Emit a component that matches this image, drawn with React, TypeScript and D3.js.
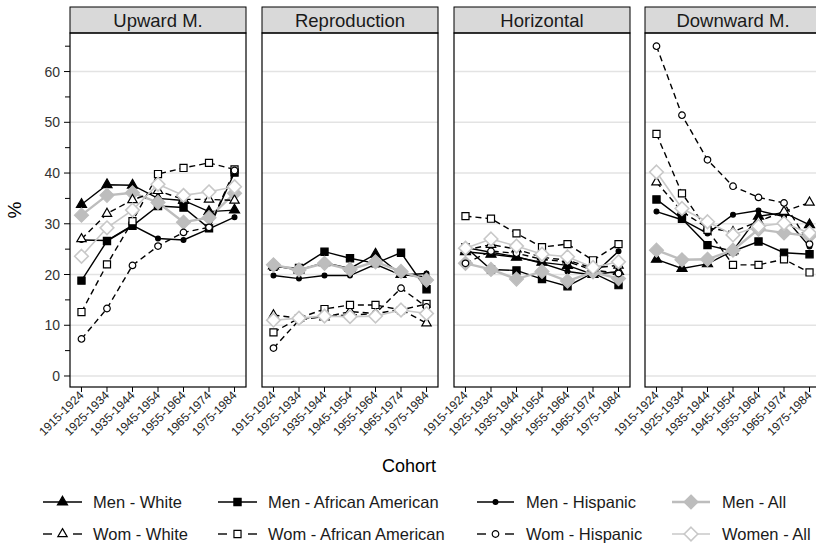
import React from "react";
import * as d3 from "d3";

// Cohort categories and facet names
const cohorts = ["1915-1924", "1925-1934", "1935-1944", "1945-1954", "1955-1964", "1965-1974", "1975-1984"];
const panels = ["Upward M.", "Reproduction", "Horizontal", "Downward M."];

// Percentages per facet (rows follow `panels`, columns follow `cohorts`)
const menWhite = [
  [33.8, 37.7, 37.6, 35.0, 34.6, 32.4, 32.7],
  [21.7, 20.9, 22.3, 21.2, 24.0, 20.0, 19.5],
  [24.5, 24.0, 23.4, 22.4, 21.8, 20.0, 20.6],
  [23.0, 21.2, 22.1, 24.7, 31.5, 32.2, 29.8],
];
const menAfrAm = [
  [18.8, 26.6, 29.6, 33.5, 33.2, 29.1, 40.1],
  [21.5, 21.3, 24.5, 23.2, 22.2, 24.3, 17.1],
  [25.4, 21.0, 20.8, 19.1, 17.7, 20.3, 17.9],
  [34.8, 31.0, 25.8, 24.6, 26.5, 24.3, 24.0],
];
const menHisp = [
  [26.8, 26.7, 29.7, 27.1, 26.8, 29.0, 31.3],
  [19.8, 19.2, 19.8, 19.8, 22.0, 19.9, 20.2],
  [25.3, 24.4, 23.5, 22.2, 20.6, 19.9, 24.6],
  [32.4, 30.8, 28.1, 31.8, 32.6, 31.4, 25.5],
];
const menAll = [
  [31.7, 35.6, 36.1, 34.2, 30.3, 31.2, 36.0],
  [21.9, 20.9, 22.2, 21.0, 22.5, 20.6, 18.9],
  [22.2, 21.0, 19.1, 20.6, 18.7, 20.5, 19.2],
  [24.8, 22.9, 23.0, 24.8, 28.9, 28.2, 27.6],
];
const womWhite = [
  [27.0, 32.0, 34.7, 36.5, 34.8, 34.8, 34.6],
  [12.0, 11.4, 11.6, 12.7, 12.3, 13.1, 10.4],
  [24.8, 25.9, 25.0, 23.4, 22.8, 21.3, 21.8],
  [38.2, 32.4, 29.2, 28.4, 30.5, 32.4, 34.2],
];
const womAfrAm = [
  [12.6, 22.0, 30.5, 39.8, 41.0, 42.0, 40.7],
  [8.6, 11.4, 13.2, 14.0, 14.0, 13.0, 14.2],
  [31.5, 31.0, 28.1, 25.4, 26.0, 22.8, 26.0],
  [47.7, 36.0, 28.8, 21.9, 21.9, 23.0, 20.4],
];
const womHisp = [
  [7.3, 13.3, 21.8, 25.6, 28.3, 29.3, 40.5],
  [5.5, 11.0, 11.8, 12.0, 12.3, 17.3, 13.6],
  [22.2, 24.6, 24.2, 23.0, 22.5, 20.9, 20.2],
  [65.0, 51.4, 42.6, 37.4, 35.2, 34.1, 26.0],
];
const womAll = [
  [23.6, 29.2, 32.7, 37.8, 35.6, 36.3, 37.3],
  [11.0, 11.4, 11.8, 11.7, 11.8, 13.0, 12.3],
  [25.2, 27.0, 25.6, 24.0, 23.5, 21.4, 22.5],
  [40.2, 33.0, 30.4, 27.8, 29.5, 30.1, 28.2],
];

const yMajor = [0, 10, 20, 30, 40, 50, 60];
const yMinor = [5, 15, 25, 35, 45, 55, 65];

type Shape = "triangle" | "square" | "circle" | "diamond";
interface Series {
  label: string;
  values: number[][];
  color: string;
  dashed: boolean;
  shape: Shape;
  filled: boolean;
  width: number;
}

const series: Series[] = [
  { label: "Men - White", values: menWhite, color: "#000", dashed: false, shape: "triangle", filled: true, width: 1.4 },
  { label: "Men - African American", values: menAfrAm, color: "#000", dashed: false, shape: "square", filled: true, width: 1.4 },
  { label: "Men - Hispanic", values: menHisp, color: "#000", dashed: false, shape: "circle", filled: true, width: 1.4 },
  { label: "Men - All", values: menAll, color: "#bdbdbd", dashed: false, shape: "diamond", filled: true, width: 2.4 },
  { label: "Wom - White", values: womWhite, color: "#000", dashed: true, shape: "triangle", filled: false, width: 1.4 },
  { label: "Wom - African American", values: womAfrAm, color: "#000", dashed: true, shape: "square", filled: false, width: 1.4 },
  { label: "Wom - Hispanic", values: womHisp, color: "#000", dashed: true, shape: "circle", filled: false, width: 1.4 },
  { label: "Women - All", values: womAll, color: "#c8c8c8", dashed: false, shape: "diamond", filled: false, width: 1.6 },
];

const W = 816;
const H = 544;
const panelLefts = [70, 262, 454, 645];
const panelW = 176;
const plotTop = 33;
const plotBottom = 387;
const stripTop = 7;

const y = d3.scaleLinear().domain([-2.17, 67.6]).range([plotBottom, plotTop]);
const xBand = d3.scalePoint<string>().domain(cohorts).range([0, panelW]).padding(0.45);

const markerPath = (shape: Shape, filled: boolean): string => {
  if (shape === "triangle") return d3.symbol(d3.symbolTriangle, filled ? 44 : 38)() as string;
  if (shape === "square") return d3.symbol(d3.symbolSquare, filled ? 52 : 50)() as string;
  if (shape === "circle") return d3.symbol(d3.symbolCircle, filled ? 18 : 34)() as string;
  const r = filled ? 7 : 6.8;
  return `M0,${-r}L${r},0L0,${r}L${-r},0Z`;
};

const Marker = ({ s, x, yy }: { s: Series; x: number; yy: number }) => {
  const isGray = s.shape === "diamond";
  return (
    <path
      d={markerPath(s.shape, s.filled)}
      transform={`translate(${x},${yy})`}
      fill={s.filled ? s.color : "#fff"}
      stroke={s.color}
      strokeWidth={isGray && !s.filled ? 1.6 : 1.2}
    />
  );
};

const font = "'Liberation Sans', Arial, sans-serif";

export default function App() {
  const line = d3
    .line<number>()
    .x((_, i) => xBand(cohorts[i]) as number)
    .y((d) => y(d));

  const legendCols = [
    { key0: 43, key1: 82, text: 93 },
    { key0: 218, key1: 257, text: 268 },
    { key0: 477, key1: 514, text: 526 },
    { key0: 672, key1: 710, text: 722 },
  ];
  const legendRows = [502, 534];

  return (
    <svg
      width={W}
      height={H}
      style={{ position: "absolute", left: 0, top: 0, background: "#fff" }}
      fontFamily={font}
    >
      <rect x={0} y={0} width={W} height={H} fill="#fff" />
      {panels.map((name, p) => {
        const x0 = panelLefts[p];
        return (
          <g key={name} transform={`translate(${x0},0)`}>
            {/* strip */}
            <rect x={0} y={stripTop} width={panelW} height={plotTop - stripTop} fill="#d9d9d9" stroke="#000" strokeWidth={1} />
            <text x={panelW / 2} y={plotTop - 6} textAnchor="middle" fontSize={18.5} fill="#1a1a1a">
              {name}
            </text>
            {/* grid */}
            {yMajor.map((v) => (
              <line key={v} x1={0} x2={panelW} y1={y(v)} y2={y(v)} stroke="#e3e3e3" strokeWidth={1.4} />
            ))}
            {/* series lines */}
            {series.map((s) => (
              <path
                key={s.label}
                d={line(s.values[p]) as string}
                fill="none"
                stroke={s.color}
                strokeWidth={s.width}
                strokeDasharray={s.dashed ? "6,4" : undefined}
              />
            ))}
            {/* markers */}
            {series.map((s) =>
              s.values[p].map((v, i) => (
                <Marker key={s.label + i} s={s} x={xBand(cohorts[i]) as number} yy={y(v)} />
              ))
            )}
            {/* frame */}
            <rect x={0} y={plotTop} width={panelW} height={plotBottom - plotTop} fill="none" stroke="#000" strokeWidth={1.2} />
            {/* x axis */}
            {cohorts.map((c) => {
              const cx = xBand(c) as number;
              return (
                <g key={c}>
                  <line x1={cx} x2={cx} y1={plotBottom} y2={plotBottom + 5} stroke="#000" strokeWidth={1} />
                  <text
                    transform={`translate(${cx + 3},${plotBottom + 9}) rotate(-45)`}
                    textAnchor="end"
                    fontSize={12}
                    fill="#222"
                  >
                    {c}
                  </text>
                </g>
              );
            })}
          </g>
        );
      })}

      {/* y axis */}
      {yMajor.map((v) => (
        <g key={v}>
          <line x1={64} x2={70} y1={y(v)} y2={y(v)} stroke="#000" strokeWidth={1} />
          <text x={60} y={y(v) + 5} textAnchor="end" fontSize={14} fill="#333">
            {v}
          </text>
        </g>
      ))}
      {yMinor.map((v) => (
        <line key={v} x1={65} x2={70} y1={y(v)} y2={y(v)} stroke="#000" strokeWidth={1} />
      ))}

      <text transform={`translate(21,${(plotTop + plotBottom) / 2}) rotate(-90)`} textAnchor="middle" fontSize={19} fill="#000">
        %
      </text>
      <text x={409} y={472} textAnchor="middle" fontSize={18} fill="#000">
        Cohort
      </text>

      {/* legend */}
      {series.map((s, i) => {
        const col = legendCols[i % 4];
        const row = legendRows[Math.floor(i / 4)];
        const mid = (col.key0 + col.key1) / 2;
        return (
          <g key={s.label}>
            {s.dashed ? (
              <g>
                <line x1={col.key0} x2={col.key0 + 9} y1={row} y2={row} stroke={s.color} strokeWidth={s.width} />
                <line x1={col.key1 - 9} x2={col.key1} y1={row} y2={row} stroke={s.color} strokeWidth={s.width} />
              </g>
            ) : (
              <line x1={col.key0} x2={col.key1} y1={row} y2={row} stroke={s.color} strokeWidth={s.width} />
            )}
            <Marker s={s} x={mid} yy={row} />
            <text x={col.text} y={row + 6} fontSize={16.5} fill="#1a1a1a">
              {s.label}
            </text>
          </g>
        );
      })}
    </svg>
  );
}
